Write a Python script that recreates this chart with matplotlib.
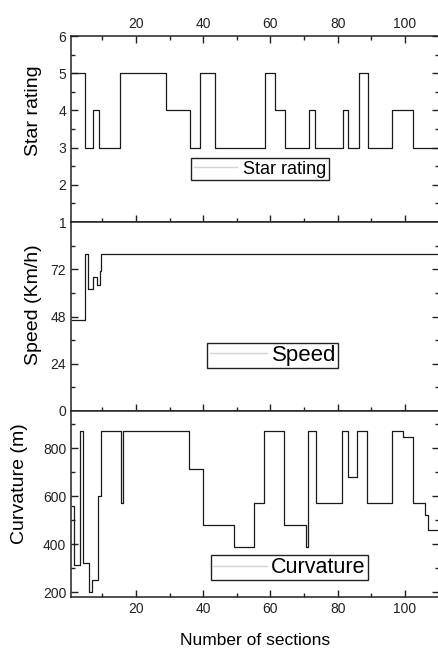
import matplotlib
matplotlib.use('Agg')
import matplotlib.pyplot as plt
from matplotlib.lines import Line2D

plt.rcParams['font.family'] = ['Liberation Sans', 'DejaVu Sans']

# ---- data (change points along the road, value held until next point) ----
star_x = [1, 4.8, 7.2, 9.0, 15.2, 29.0, 36.0, 39.0, 43.4, 58.5,
          61.4, 64.4, 71.5, 73.2, 81.5, 83.2, 86.2, 89.0, 96.2, 102.3, 110]
star_y = [5, 3, 4, 3, 5, 4, 3, 5, 3, 5,
          4, 3, 4, 3, 4, 3, 5, 3, 4, 3, 3]

speed_x = [1, 4.8, 5.7, 7.2, 8.5, 9.2, 9.7, 110]
speed_y = [46, 80, 62, 68, 64, 71, 80, 80]

curv_x = [1, 1.5, 3.5, 4.2, 6.2, 7.0, 8.7, 9.7, 15.7, 16.3,
          35.8, 40.0, 49.1, 55.2, 58.2, 63.9, 70.7, 71.3, 73.5, 81.3,
          83.2, 85.8, 88.8, 96.2, 99.3, 102.5, 106.0, 106.8, 110]
curv_y = [560, 312, 870, 320, 200, 250, 600, 870, 571, 870,
          715, 479, 389, 571, 870, 479, 389, 870, 571, 870,
          680, 870, 571, 870, 847, 571, 520, 461, 461]

x_major = [20, 40, 60, 80, 100]
x_minor = [10, 30, 50, 70, 90, 110]
star_ticks = [1, 2, 3, 4, 5, 6]
speed_ticks = [0, 24, 48, 72]
curv_ticks = [200, 400, 600, 800]

fig = plt.figure(figsize=(4.38, 6.51), dpi=100)
L = 71 / 438
W = (438.6 - 71) / 438
ax1 = fig.add_axes([L, 1 - 222 / 651, W, 186 / 651])
ax2 = fig.add_axes([L, 1 - 411 / 651, W, 189 / 651])
ax3 = fig.add_axes([L, 1 - 597 / 651, W, 186 / 651])

line_kw = dict(color='#1a1a1a', lw=0.9, drawstyle='steps-post')
ax1.plot(star_x, star_y, **line_kw)
ax2.plot(speed_x, speed_y, **line_kw)
ax3.plot(curv_x, curv_y, **line_kw)

for ax in (ax1, ax2, ax3):
    ax.set_xlim(0.7, 110)
    ax.set_xticks(x_major)
    ax.set_xticks(x_minor, minor=True)
    ax.tick_params(which='both', direction='in', right=True, width=1.0,
                   labelsize=10, colors='#222222')
    ax.tick_params(which='major', length=5)
    ax.tick_params(which='minor', length=3)
    for s in ax.spines.values():
        s.set_linewidth(1.1)
        s.set_color('#222222')

ax1.tick_params(axis='x', which='both', top=True, labeltop=True, labelbottom=False)
ax2.tick_params(axis='x', which='both', top=False, labelbottom=False)
ax3.tick_params(axis='x', which='both', top=False, labelbottom=True)

ax1.set_ylim(1, 6)
ax1.set_yticks(star_ticks)
ax1.set_yticks([1.5, 2.5, 3.5, 4.5, 5.5], minor=True)

ax2.set_ylim(0, 96)
ax2.set_yticks(speed_ticks)
ax2.set_yticks([12, 36, 60, 84], minor=True)

ax3.set_ylim(180, 955)
ax3.set_yticks(curv_ticks)
ax3.set_yticks([300, 500, 700, 900], minor=True)

ax1.set_ylabel('Star rating', fontsize=14)
ax2.set_ylabel('Speed (Km/h)', fontsize=14)
ax3.set_ylabel('Curvature (m)', fontsize=14)
ax1.yaxis.set_label_coords(-0.079, 0.6)
ax2.yaxis.set_label_coords(-0.079, 0.56)
ax3.yaxis.set_label_coords(-0.117, 0.61)
ax3.set_xlabel('Number of sections', fontsize=12.5, labelpad=12)


def add_leg(ax, label, fs, anchor, hl, bp, htp):
    h = Line2D([], [], color='#d4d4d4', lw=1)
    leg = ax.legend([h], [label], loc='upper left', bbox_to_anchor=anchor,
                    fontsize=fs, frameon=True, fancybox=False,
                    edgecolor='#222222', borderpad=bp, handlelength=hl,
                    handletextpad=htp, borderaxespad=0, framealpha=1)
    leg.get_frame().set_linewidth(1.0)


add_leg(ax1, 'Star rating', 13, (0.327, 0.344), 2.4, 0.15, 0.3)
add_leg(ax2, 'Speed', 16, (0.371, 0.36), 2.6, 0.1, 0.2)
add_leg(ax3, 'Curvature', 15.5, (0.381, 0.226), 2.5, 0.1, 0.2)

fig.savefig('out.png', dpi=100)
